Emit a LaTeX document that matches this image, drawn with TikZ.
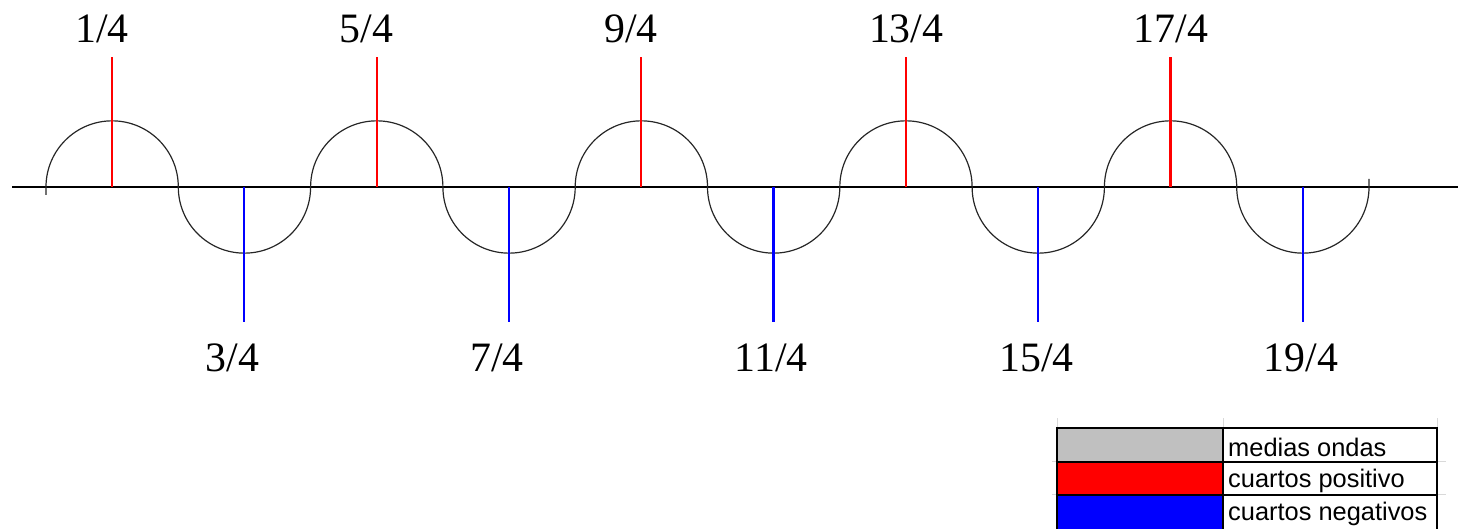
\documentclass[tikz,border=0pt]{standalone}
\usepackage{fontspec}
\newfontfamily\labelfont{Liberation Serif}
\newfontfamily\legendfont{Liberation Sans}
\usepackage{tikz}
\usetikzlibrary{positioning}
\definecolor{halfgray}{HTML}{C0C0C0}
\definecolor{cellgrid}{HTML}{D9D9D9}
\tikzset{axisline/.style={line width=1.6pt},
  wave/.style={line width=1.2pt,black!85},
  postick/.style={line width=2.2pt,red},
  negtick/.style={line width=2.2pt,blue},
  qlabel/.style={anchor=base west,inner sep=0pt,font=\labelfont\fontsize{42}{42}\selectfont},
  legtext/.style={anchor=base west,inner sep=0pt,font=\legendfont\fontsize{25.5}{25.5}\selectfont},
  cellline/.style={line width=1pt,cellgrid},
  tableline/.style={line width=1.5pt}}

\begin{document}
\begin{tikzpicture}[x=1bp,y=1bp]
\useasboundingbox (0,0) rectangle (1458,529);
% axis and wave
\draw[axisline] (12,342) -- (1458,342);
\draw[wave] (46,334) -- (46,342)
  \foreach \k in {0,...,4}{
    arc[start angle=180,end angle=0,radius=66.15bp]
    arc[start angle=180,end angle=360,radius=66.15bp]}
  -- ++(0,8);
% positive quarters
\foreach \k in {0,2,...,8}{
  \pgfmathsetmacro\cx{112+132.3*\k}
  \pgfmathtruncatemacro\num{2*\k+1}
  \coordinate (b\num) at (\cx,342);
  \coordinate (t\num) at (\cx,472);
  \draw[postick] (b\num) -- (t\num);
  \node[qlabel] (l\num) at (\cx-37,486) {\num/4};
}
% negative quarters
\foreach \k in {1,3,...,9}{
  \pgfmathsetmacro\cx{112+132.3*\k}
  \pgfmathtruncatemacro\num{2*\k+1}
  \coordinate (b\num) at (\cx,342);
  \coordinate (t\num) at (\cx,207);
  \draw[negtick] (b\num) -- (t\num);
  \node[qlabel] (l\num) at (\cx-39,157) {\num/4};
}
% legend
\draw[cellline] (1057,101) -- (1057,111) (1223,101) -- (1223,111) (1437,101) -- (1437,111);
\draw[cellline] (1052,67) -- (1446,67) (1052,34) -- (1446,34);
\fill[halfgray] (1057,67) rectangle (1223,101);
\fill[red] (1057,34) rectangle (1223,67);
\fill[blue] (1057,0) rectangle (1223,34);
\draw[tableline] (1057,0) -- (1057,101) -- (1437,101) -- (1437,0)
  (1223,0) -- (1223,101) (1057,67) -- (1437,67) (1057,34) -- (1437,34);
\node[legtext] (medias) at (1228,72) {medias ondas};
\node[legtext] (positivo) at (1228,41) {cuartos positivo};
\node[legtext] (negativo) at (1228,8) {cuartos negativos};
\end{tikzpicture}
\end{document}
